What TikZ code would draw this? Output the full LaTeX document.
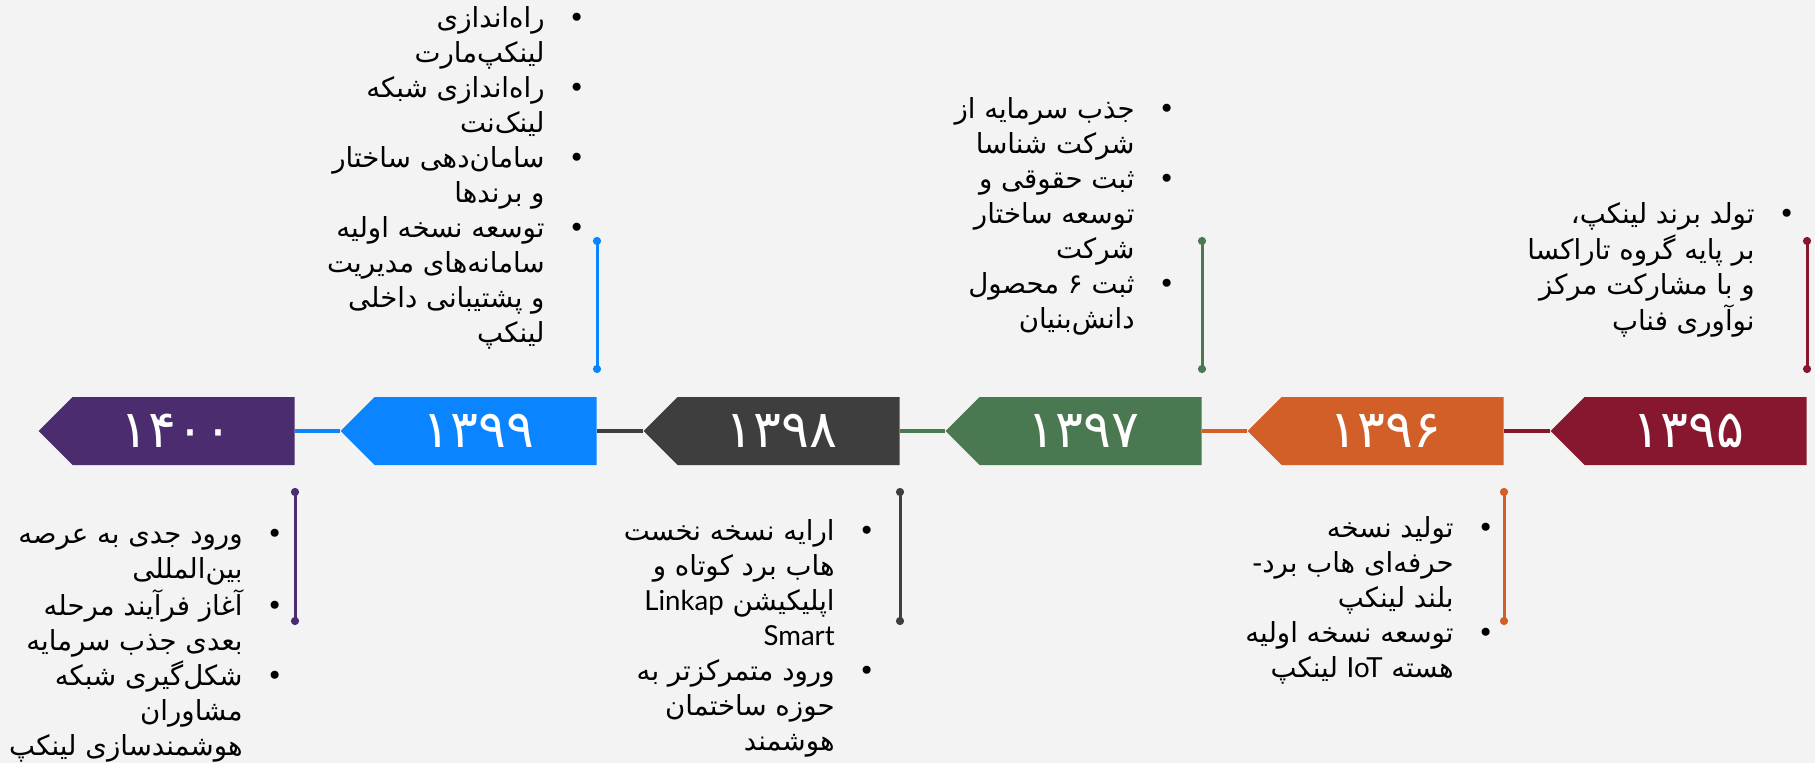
\documentclass[tikz,border=0pt]{standalone}
\usepackage{fontspec}
\usetikzlibrary{shapes.symbols, arrows.meta}
\TeXXeTstate=1
\newfontfamily\farsi[Script=Arabic]{DejaVu Sans}
\newfontfamily\latin{Lato}
\newcommand{\rl}[1]{\beginR#1\endR}
\newcommand{\lr}[1]{\beginL{\latin #1}\endL}
\newcommand{\bul}{\rlap{\hspace{12pt}\textbullet}}

\definecolor{bgcol}{HTML}{F3F3F3}
\definecolor{c1400}{HTML}{4B2C6E}
\definecolor{c1399}{HTML}{0B84FF}
\definecolor{c1398}{HTML}{3E3E3E}
\definecolor{c1397}{HTML}{4A7850}
\definecolor{c1396}{HTML}{D25E28}
\definecolor{c1395}{HTML}{86172F}

\begin{document}
\begin{tikzpicture}[x=0.5pt, y=-0.5pt,
    yearbox/.style={shape=signal, signal to=west, signal from=nowhere, signal pointer angle=90,
        minimum height=34pt, minimum width=128pt, inner sep=0pt, anchor=east,
        text=white, font=\farsi\fontsize{26}{30}\selectfont,
        execute at end node={\kern7pt}},
    link/.style={line width=2pt},
    yearstem/.style={line width=1.5pt, {Circle[length=4pt]}-{Circle[length=4pt]}},
    notes/.style={inner sep=0pt, font=\farsi\fontsize{13.8}{17.5}\selectfont}]

    % background and page size
    \fill[bgcol] (0,0) rectangle (1815,763);

    % Define the year boxes (right to left)
    \node[yearbox, fill=c1395] (y1395) at (1807,431) {۱۳۹۵};
    \node[yearbox, fill=c1396] (y1396) at (1504,431) {۱۳۹۶};
    \node[yearbox, fill=c1397] (y1397) at (1202,431) {۱۳۹۷};
    \node[yearbox, fill=c1398] (y1398) at (900,431) {۱۳۹۸};
    \node[yearbox, fill=c1399] (y1399) at (597,431) {۱۳۹۹};
    \node[yearbox, fill=c1400] (y1400) at (295,431) {۱۴۰۰};

    % Draw the links between the boxes
    \draw[link, c1395] (y1396.east) -- (y1395.west);
    \draw[link, c1396] (y1397.east) -- (y1396.west);
    \draw[link, c1397] (y1398.east) -- (y1397.west);
    \draw[link, c1398] (y1399.east) -- (y1398.west);
    \draw[link, c1399] (y1400.east) -- (y1399.west);

    % Draw the stems above and below
    \draw[yearstem, c1395] ([yshift=29pt]y1395.east) -- ([yshift=97pt]y1395.east);
    \draw[yearstem, c1397] ([yshift=29pt]y1397.east) -- ([yshift=97pt]y1397.east);
    \draw[yearstem, c1399] ([yshift=29pt]y1399.east) -- ([yshift=97pt]y1399.east);
    \draw[yearstem, c1396] ([yshift=-28.5pt]y1396.east) -- ([yshift=-97pt]y1396.east);
    \draw[yearstem, c1398] ([yshift=-28.5pt]y1398.east) -- ([yshift=-97pt]y1398.east);
    \draw[yearstem, c1400] ([yshift=-28.5pt]y1400.east) -- ([yshift=-97pt]y1400.east);

    % Define the notes above the line
    \node[notes, anchor=north east] (n1399) at (545,3) {\begin{tabular}{@{}r@{}}
        \rl{راه‌اندازی}\bul\\
        \rl{لینکپ‌مارت}\\
        \rl{راه‌اندازی شبکه}\bul\\
        \rl{لینک‌نت}\\
        \rl{سامان‌دهی ساختار}\bul\\
        \rl{و برندها}\\
        \rl{توسعه نسخه اولیه}\bul\\
        \rl{سامانه‌های مدیریت}\\
        \rl{و پشتیبانی داخلی}\\
        \rl{لینکپ}
    \end{tabular}};
    \node[notes, anchor=north east] (n1397) at (1135,94) {\begin{tabular}{@{}r@{}}
        \rl{جذب سرمایه از}\bul\\
        \rl{شرکت شناسا}\\
        \rl{ثبت حقوقی و}\bul\\
        \rl{توسعه ساختار}\\
        \rl{شرکت}\\
        \rl{ثبت ۶ محصول}\bul\\
        \rl{دانش‌بنیان}
    \end{tabular}};
    \node[notes, anchor=north east] (n1395) at (1755,199) {\begin{tabular}{@{}r@{}}
        \rl{تولد برند لینکپ،}\bul\\
        \rl{بر پایه گروه تاراکسا}\\
        \rl{و با مشارکت مرکز}\\
        \rl{نوآوری فناپ}
    \end{tabular}};

    % Define the notes below the line
    \node[notes, anchor=north east] (n1400) at (243,519) {\begin{tabular}{@{}r@{}}
        \rl{ورود جدی به عرصه}\bul\\
        \rl{بین‌المللی}\\
        \rl{آغاز فرآیند مرحله}\bul\\
        \rl{بعدی جذب سرمایه}\\
        \rl{شکل‌گیری شبکه}\bul\\
        \rl{مشاوران}\\
        \rl{هوشمندسازی لینکپ}
    \end{tabular}};
    \node[notes, anchor=north east] (n1398) at (835,516) {\begin{tabular}{@{}r@{}}
        \rl{ارایه نسخه نخست}\bul\\
        \rl{هاب برد کوتاه و}\\
        \rl{اپلیکیشن \lr{Linkap}}\\
        \lr{Smart}\\
        \rl{ورود متمرکزتر به}\bul\\
        \rl{حوزه ساختمان}\\
        \rl{هوشمند}
    \end{tabular}};
    \node[notes, anchor=north east] (n1396) at (1454,513) {\begin{tabular}{@{}r@{}}
        \rl{تولید نسخه}\bul\\
        \rl{حرفه‌ای هاب برد-}\\
        \rl{بلند لینکپ}\\
        \rl{توسعه نسخه اولیه}\bul\\
        \rl{هسته \lr{IoT} لینکپ}
    \end{tabular}};

\end{tikzpicture}
\end{document}
